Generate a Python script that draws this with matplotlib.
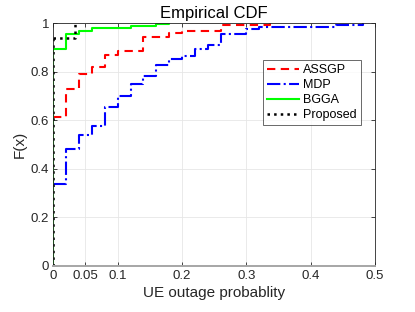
import matplotlib
matplotlib.use("Agg")
import matplotlib.pyplot as plt

plt.rcParams["font.family"] = ["Liberation Sans", "DejaVu Sans"]

# step positions (x) and ECDF level reached at each step (F)
assgp_x = [0, 0.02, 0.04, 0.06, 0.08, 0.10, 0.14, 0.18, 0.20, 0.26, 0.337]
assgp_f = [0.612, 0.728, 0.792, 0.820, 0.869, 0.887, 0.945, 0.959, 0.968, 0.993, 1.0]

mdp_x = [0, 0.02, 0.04, 0.06, 0.08, 0.10, 0.12, 0.14, 0.16, 0.18, 0.20, 0.22,
         0.24, 0.26, 0.30, 0.32, 0.44, 0.482]
mdp_f = [0.337, 0.481, 0.538, 0.575, 0.655, 0.699, 0.748, 0.784, 0.827, 0.853,
         0.864, 0.894, 0.910, 0.954, 0.976, 0.984, 0.995, 1.0]

bgga_x = [0, 0.02, 0.04, 0.06, 0.12, 0.16, 0.18]
bgga_f = [0.893, 0.956, 0.970, 0.979, 0.989, 0.996, 1.0]

prop_x = [0, 0.034]
prop_f = [0.938, 1.0]

xticks = [0, 0.05, 0.1, 0.2, 0.3, 0.4, 0.5]
yticks = [0, 0.2, 0.4, 0.6, 0.8, 1]

dark = "#262626"
fig = plt.figure(figsize=(4.15, 3.12), dpi=100)
ax = fig.add_axes([0.1285, 0.1484, 0.9036 - 0.1285, 0.9253 - 0.1484])

ax.step(assgp_x, assgp_f, where="post", color="#ff0000", ls=(0, (4, 2.6)), lw=1.5, label="ASSGP")
ax.step(mdp_x, mdp_f, where="post", color="#0000ff", ls="-.", lw=1.5, label="MDP")
ax.step(bgga_x, bgga_f, where="post", color="#00ff00", ls="-", lw=1.5, label="BGGA")
ax.step(prop_x, prop_f, where="post", color="black", ls=":", lw=1.8, label="Proposed")
# vertical rise at x=0 as drawn by ecdf
ax.plot([0, 0], [0, bgga_f[0]], color="#00ff00", lw=1.5)
ax.plot([0, 0], [0, prop_f[0]], color="black", ls=":", lw=1.8)

ax.set_xlim(0, 0.5)
ax.set_ylim(0, 1)
ax.set_xticks(xticks)
ax.set_xticklabels(["0", "0.05", "0.1", "0.2", "0.3", "0.4", "0.5"])
ax.set_yticks(yticks)
ax.set_yticklabels(["0", "0.2", "0.4", "0.6", "0.8", "1"])
ax.tick_params(direction="in", top=True, right=True, length=3, width=0.6,
               labelsize=9.5, colors=dark, pad=3)
ax.grid(True, color="#e6e6e6", lw=0.6)
ax.set_axisbelow(True)
for s in ax.spines.values():
    s.set_color(dark)
    s.set_linewidth(0.6)
ax.spines["bottom"].set_color("#a6a6a6")
ax.spines["bottom"].set_linewidth(1.4)

ax.set_title("Empirical CDF", fontsize=12, color="black", pad=4)
ax.set_xlabel("UE outage probablity", fontsize=11, color=dark, labelpad=3)
ax.set_ylabel("F(x)", fontsize=11, color=dark, labelpad=3)

leg = ax.legend(loc="upper right", bbox_to_anchor=(0.955, 0.848), fontsize=9,
                frameon=True, fancybox=False, edgecolor=dark, handlelength=2.6,
                handletextpad=0.3, borderpad=0.3, labelspacing=0.25, borderaxespad=0)
leg.get_frame().set_linewidth(0.6)

fig.savefig("out.png", dpi=100)
